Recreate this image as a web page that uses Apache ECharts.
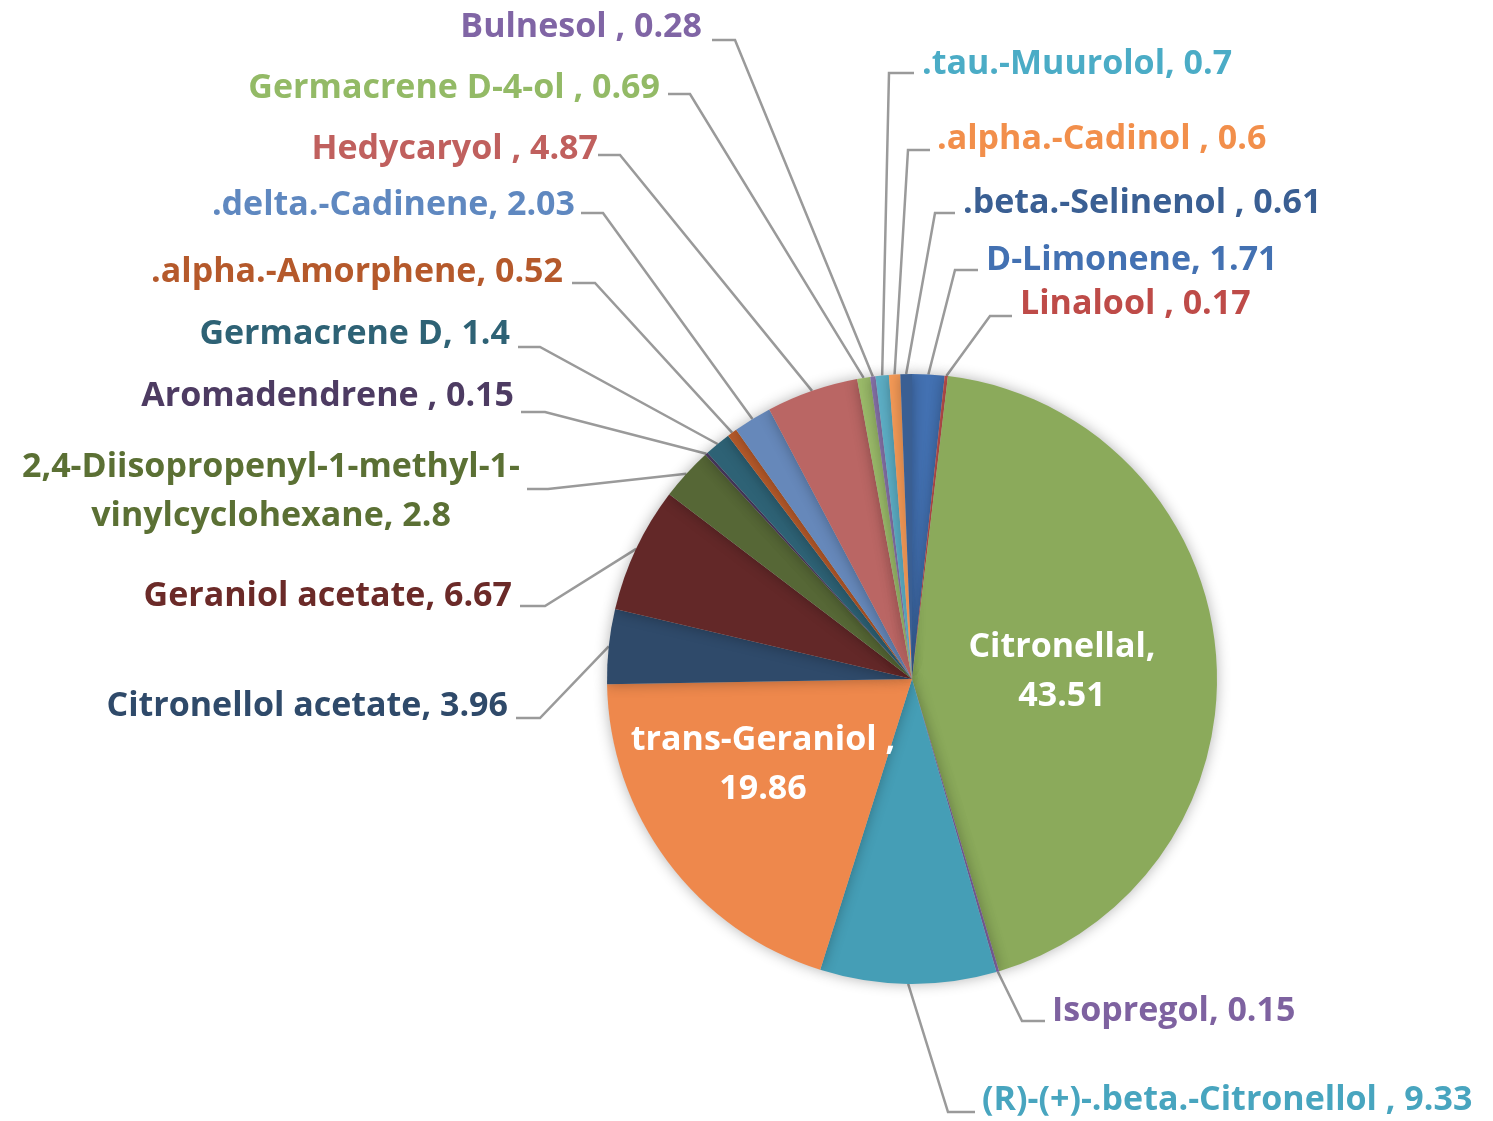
<!DOCTYPE html>
<html>
<head>
<meta charset="utf-8">
<script src="https://cdn.jsdelivr.net/npm/echarts@6/dist/echarts.min.js"></script>
<style>
html,body{margin:0;padding:0;background:#fff;}
#chart{width:1493px;height:1121px;}
</style>
</head>
<body>
<div id="chart"></div>
<script>
// Data (clockwise from 12 o'clock)
const categories = ['D-Limonene', 'Linalool ', 'Citronellal', 'Isopregol', '(R)-(+)-.beta.-Citronellol ', 'trans-Geraniol ',
  'Citronellol acetate', 'Geraniol acetate', '2,4-Diisopropenyl-1-methyl-1-vinylcyclohexane', 'Aromadendrene ',
  'Germacrene D', '.alpha.-Amorphene', '.delta.-Cadinene', 'Hedycaryol ', 'Germacrene D-4-ol ', 'Bulnesol ',
  '.tau.-Muurolol', '.alpha.-Cadinol ', '.beta.-Selinenol '];
const values = [1.71, 0.17, 43.51, 0.15, 9.33, 19.86, 3.96, 6.67, 2.8, 0.15, 1.4, 0.52, 2.03, 4.87, 0.69, 0.28, 0.7, 0.6, 0.61];
const insideLabels = ['Citronellal', 'trans-Geraniol '];

// Styles
const sliceColors = ['#4371B2', '#C0504D', '#8BAA5B', '#8064A2', '#459EB6', '#EE884C', '#2F4A6A', '#632828',
  '#566736', '#4D3B62', '#2E6275', '#B65A2A', '#6688BA', '#BA6664', '#9BBB6A', '#8A75AD', '#5DAFC6', '#F59A57', '#3A5F93'];
const labelColors = ['#4371B2', '#BE4B48', '#ffffff', '#7E62A0', '#48A5BF', '#ffffff', '#2F4A6A', '#6B2A28',
  '#5B7034', '#4D3B62', '#2E6275', '#B5592B', '#5F88C0', '#C0605E', '#93BA66', '#8065A5', '#4BACC6', '#F28F4B', '#3A5F93'];

// Label placement: [textX, textY, align, lineStartX, lineY, elbowX]
const labelPlacement = [
  [986, 260, 'left', 978, 270, 955],
  [1020, 304, 'left', 1012, 316, 990],
  [1062, 672, 'center'],
  [1052, 1011, 'left', 1045, 1021, 1022],
  [982, 1100, 'left', 975, 1112, 948],
  [763, 765, 'center'],
  [508, 706, 'right', 516, 718, 540],
  [512, 596, 'right', 520, 606, 545],
  [271, 492, 'center', 527, 489, 548],
  [514, 396, 'right', 521, 412, 545],
  [510, 334, 'right', 518, 347, 540],
  [563, 272, 'right', 572, 283, 595],
  [575, 205, 'right', 581, 213, 603],
  [598, 149, 'right', 598, 155, 620],
  [660, 88, 'right', 668, 94, 690],
  [702, 27, 'right', 712, 40, 735],
  [922, 64, 'left', 914, 73, 889],
  [937, 139, 'left', 930, 150, 908],
  [963, 203, 'left', 955, 213, 935]
];

const FONT = '"Open Sans", Lato, sans-serif';

const data = categories.map(function (name, i) {
  const inside = insideLabels.indexOf(name) >= 0;
  return {
    name: name,
    value: values[i],
    itemStyle: { color: sliceColors[i] },
    label: inside ? { position: 'inside', color: '#ffffff' } : { color: labelColors[i] },
    labelLine: { show: !inside }
  };
});

const chart = echarts.init(document.getElementById('chart'), null, { renderer: 'canvas' });
chart.setOption({
  backgroundColor: '#ffffff',
  animation: false,
  series: [{
    type: 'pie',
    center: [912, 679],
    radius: 305,
    startAngle: 90,
    clockwise: true,
    avoidLabelOverlap: false,
    data: data,
    itemStyle: {
      borderWidth: 0,
      shadowBlur: 14,
      shadowColor: 'rgba(0,0,0,0.30)'
    },
    label: {
      show: true,
      position: 'outside',
      overflow: 'none',
      fontFamily: FONT,
      fontWeight: 'bold',
      fontSize: 34,
      lineHeight: 49,
      formatter: function (p) {
        if (insideLabels.indexOf(p.name) >= 0) {
          return p.name + ',\n' + p.value;
        }
        let n = p.name;
        if (n.indexOf('1-methyl-1-') >= 0) n = n.replace('1-methyl-1-', '1-methyl-1-\n');
        return n + ', ' + p.value;
      }
    },
    labelLine: {
      show: true,
      length: 20,
      length2: 20,
      lineStyle: { color: '#9A9A9A', width: 2.5 }
    },
    labelLayout: function (params) {
      const lp = labelPlacement[params.dataIndex];
      const out = { x: lp[0], y: lp[1], align: lp[2], verticalAlign: 'middle' };
      if (lp.length > 3 && params.labelLinePoints && params.labelLinePoints.length) {
        const anchor = params.labelLinePoints[0];
        out.labelLinePoints = [[lp[3], lp[4]], [lp[5], lp[4]], [anchor[0], anchor[1]]];
      }
      return out;
    },
    emphasis: { disabled: true }
  }]
});
</script>
</body>
</html>
